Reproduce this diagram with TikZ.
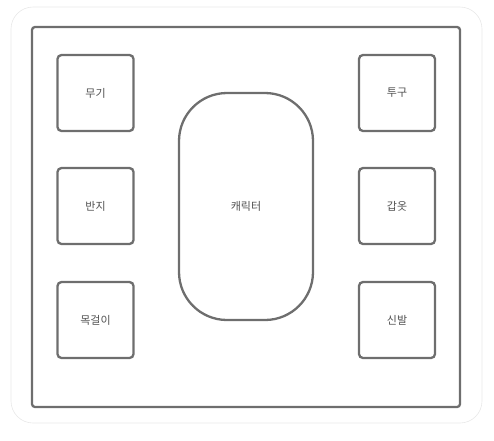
\documentclass[tikz,border=0pt]{standalone}
\usepackage{fontspec}
\newfontfamily\kr{Noto Sans CJK KR}
\definecolor{ln}{HTML}{6E6E6E}
\definecolor{tx}{HTML}{505050}
\begin{document}
\begin{tikzpicture}[x=1pt,y=-1pt,
  lbl/.style={font=\kr\fontsize{11}{13}\selectfont,text=tx},
  slot/.style={draw=ln,line width=2.3pt,rounded corners=4pt,minimum width=76pt,minimum height=76pt,inner sep=0pt,lbl},
]
\useasboundingbox (0,0) rectangle (494,440);
\draw[draw=black!9,line width=0.6pt,rounded corners=22pt] (11,7) rectangle (482,423);
\node[draw=ln,line width=2.3pt,rounded corners=3pt,minimum width=428pt,minimum height=380pt,inner sep=0pt] (frame) at (246,217) {};
\node[slot] (weapon) at (95.5,93) {무기};
\node[slot] (ring) at (95.5,206) {반지};
\node[slot] (neck) at (95.5,320) {목걸이};
\node[slot] (helm) at (397,93) {투구};
\node[slot] (armor) at (397,206) {갑옷};
\node[slot] (shoes) at (397,320) {신발};
\node[draw=ln,line width=2.3pt,rounded corners=48pt,minimum width=134pt,minimum height=227pt,inner sep=0pt,lbl] (char) at (246,206.5) {캐릭터};
\end{tikzpicture}
\end{document}
